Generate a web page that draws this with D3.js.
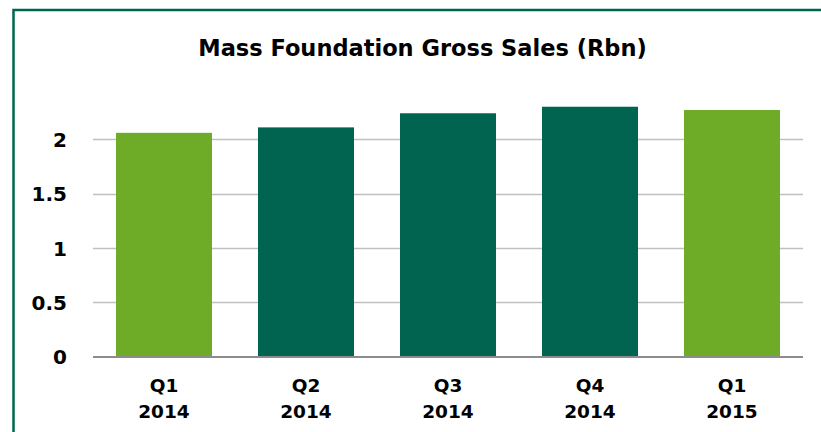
<!DOCTYPE html>
<html>
<head>
<meta charset="utf-8">
<script src="https://cdn.jsdelivr.net/npm/d3@7"></script>
<style>
  html, body { margin: 0; padding: 0; background: #fff; }
  svg { display: block; }
  text { font-family: "DejaVu Sans", sans-serif; font-weight: bold; fill: #000; }
</style>
</head>
<body>
<script>
const categories = ["Q1 2014", "Q2 2014", "Q3 2014", "Q4 2014", "Q1 2015"];
const values = [2.06, 2.11, 2.24, 2.30, 2.27];
const barColors = ["#6EAB27", "#016451", "#016451", "#016451", "#6EAB27"];
const yTicks = [0, 0.5, 1, 1.5, 2];
const yTickLabels = ["0", "0.5", "1", "1.5", "2"];
const title = "Mass Foundation Gross Sales (Rbn)";

const W = 821, H = 432;
const svg = d3.select("body").append("svg").attr("width", W).attr("height", H);

// frame
svg.append("rect")
  .attr("x", 13.5).attr("y", 10)
  .attr("width", W + 20).attr("height", H + 20)
  .attr("fill", "none").attr("stroke", "#00654F").attr("stroke-width", 2.5);

const x = d3.scaleBand().domain(categories).range([93, 803]).paddingInner(0.324).paddingOuter(0.162);
const y = d3.scaleLinear().domain([0, 2.5]).range([356.7, 85]);

// gridlines
svg.append("g").selectAll("line").data(yTicks.filter(d => d > 0)).join("line")
  .attr("x1", 93).attr("x2", 803)
  .attr("y1", d => Math.round(y(d)) + 0.5).attr("y2", d => Math.round(y(d)) + 0.5)
  .attr("stroke", "#C0C0C0").attr("stroke-width", 1.3);

// bars
svg.append("g").selectAll("rect").data(values).join("rect")
  .attr("x", (d, i) => x(categories[i]))
  .attr("width", x.bandwidth())
  .attr("y", d => y(d))
  .attr("height", d => y(0) - y(d))
  .attr("fill", (d, i) => barColors[i]);

// baseline
svg.append("line").attr("x1", 93).attr("x2", 803)
  .attr("y1", 357).attr("y2", 357)
  .attr("stroke", "#8C8C8C").attr("stroke-width", 2);

// y axis labels
const yAxis = d3.axisLeft(y).tickValues(yTicks).tickFormat((d, i) => yTickLabels[i]).tickSize(0).tickPadding(0);
const ga = svg.append("g").attr("transform", "translate(67,0)").call(yAxis);
ga.select(".domain").remove();
ga.selectAll("text").attr("font-size", 20).attr("font-family", "DejaVu Sans").attr("font-weight", "bold").attr("fill", "#000").attr("dy", "0.36em");

// x labels
const xl = svg.append("g").selectAll("text").data(categories).join("text")
  .attr("text-anchor", "middle")
  .attr("font-size", 18.5);
xl.each(function(d) {
  const parts = d.split(" ");
  const t = d3.select(this);
  const cx = x(d) + x.bandwidth() / 2;
  t.append("tspan").attr("x", cx).attr("y", 392).text(parts[0]);
  t.append("tspan").attr("x", cx).attr("y", 418).text(parts[1]);
});

// title
svg.append("text").attr("x", 422.5).attr("y", 56)
  .attr("text-anchor", "middle").attr("font-size", 22.5).text(title);
</script>
</body>
</html>
